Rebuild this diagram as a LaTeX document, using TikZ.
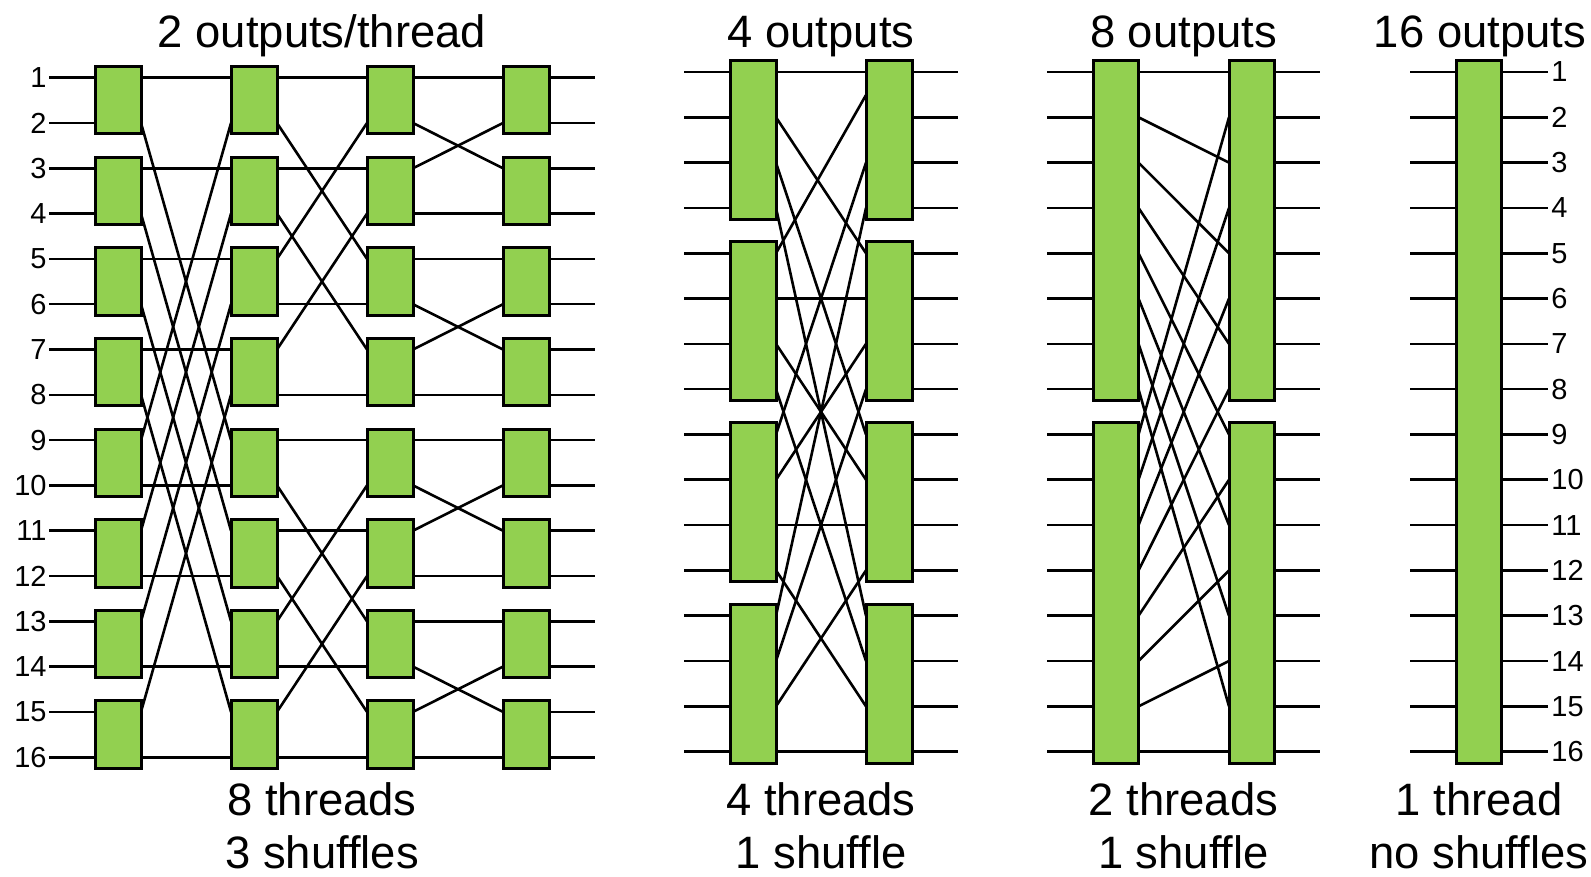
\documentclass[tikz,border=0pt]{standalone}
\usepackage{fontspec}
\setmainfont{Liberation Sans}
\usetikzlibrary{fit,calc}
\pgfdeclarelayer{bg}
\pgfsetlayers{bg,main}
\definecolor{blockgreen}{HTML}{92D050}
\begin{document}
\begin{tikzpicture}[x=0.5pt,y=-0.5pt,
  block/.style={draw=black, fill=blockgreen, line width=1.5pt, inner sep=0pt, outer sep=0pt},
  wire/.style={line width=1.3pt, black},
  num/.style={font=\fontsize{14.5}{16}\selectfont, inner sep=0pt},
  caption/.style={font=\fontsize{22.7}{26}\selectfont, inner sep=0pt, anchor=base}
]
\useasboundingbox (0,0) rectangle (1591,877);
% row coordinates
\foreach \k in {1,...,16} {
  \coordinate (A\k) at (0,{77.7+(\k-1)*45.3});
  \coordinate (B\k) at (0,{72+(\k-1)*45.31});
}
\coordinate (Bq) at (0,95);

% ---------- section 1: 2 outputs/thread ----------
\foreach \c/\xl in {1/95,2/231,3/367,4/503} {
  \foreach \j in {1,...,8} {
    \pgfmathsetmacro\yt{77.7+(2*\j-2)*45.3-11}
    \pgfmathsetmacro\yb{77.7+(2*\j-1)*45.3+11}
    \node[block, fit={(\xl,\yt)(\xl+46,\yb)}] (P\c-\j) {};
  }
}
\foreach \k in {1,...,16} {
  \node[num, anchor=east] (L\k) at (47,{77.7+(\k-1)*45.3}) {\k};
  \coordinate (AO\k) at (595,{77.7+(\k-1)*45.3});
}
\begin{pgfonlayer}{bg}
\foreach \k in {1,...,16} {
  \pgfmathtruncatemacro\j{(\k+1)/2}
  \draw[wire] ([xshift=1pt]L\k.east) -- (P1-\j.west |- A\k);
  \draw[wire] (P4-\j.east |- A\k) -- (AO\k);
}
\foreach \a/\b in {1/1,3/3,5/5,7/7,10/10,12/12,14/14,16/16,2/9,4/11,6/13,8/15,9/2,11/4,13/6,15/8} {
  \pgfmathtruncatemacro\ja{(\a+1)/2}
  \pgfmathtruncatemacro\jb{(\b+1)/2}
  \draw[wire] (P1-\ja.east |- A\a) -- (P2-\jb.west |- A\b);
}
\foreach \a/\b in {1/1,3/3,6/6,8/8,2/5,4/7,5/2,7/4,9/9,11/11,14/14,16/16,10/13,12/15,13/10,15/12} {
  \pgfmathtruncatemacro\ja{(\a+1)/2}
  \pgfmathtruncatemacro\jb{(\b+1)/2}
  \draw[wire] (P2-\ja.east |- A\a) -- (P3-\jb.west |- A\b);
}
\foreach \a/\b in {1/1,4/4,5/5,8/8,2/3,3/2,6/7,7/6,9/9,12/12,13/13,16/16,10/11,11/10,14/15,15/14} {
  \pgfmathtruncatemacro\ja{(\a+1)/2}
  \pgfmathtruncatemacro\jb{(\b+1)/2}
  \draw[wire] (P3-\ja.east |- A\a) -- (P4-\jb.west |- A\b);
}
\end{pgfonlayer}

% ---------- section 2: 4 outputs ----------
\foreach \c/\xl in {1/730,2/866} {
  \foreach \j in {1,...,4} {
    \pgfmathsetmacro\yt{72+(4*\j-4)*45.31-11.5}
    \pgfmathsetmacro\yb{72+(4*\j-1)*45.31+11.5}
    \node[block, fit={(\xl,\yt)(\xl+46,\yb)}] (Q\c-\j) {};
  }
}
\foreach \k in {1,...,16} {
  \coordinate (QI\k) at (684,{72+(\k-1)*45.31});
  \coordinate (QO\k) at (958,{72+(\k-1)*45.31});
}
\begin{pgfonlayer}{bg}
\foreach \k in {1,...,16} {
  \pgfmathtruncatemacro\j{(\k+3)/4}
  \draw[wire] (QI\k) -- (Q1-\j.west |- B\k);
  \draw[wire] (Q2-\j.east |- B\k) -- (QO\k);
}
\foreach \a/\b in {1/1,2/5,3/9,4/13,6/6,7/10,8/14,9/3,10/7,11/11,12/15,13/4,14/8,15/12,16/16} {
  \pgfmathtruncatemacro\ja{(\a+3)/4}
  \pgfmathtruncatemacro\jb{(\b+3)/4}
  \draw[wire] (Q1-\ja.east |- B\a) -- (Q2-\jb.west |- B\b);
}
\draw[wire] (Q1-2.east |- B5) -- (Q2-1.west |- Bq);
\end{pgfonlayer}

% ---------- section 3: 8 outputs ----------
\foreach \c/\xl in {1/1093,2/1229} {
  \foreach \j in {1,2} {
    \pgfmathsetmacro\yt{72+(8*\j-8)*45.31-11.5}
    \pgfmathsetmacro\yb{72+(8*\j-1)*45.31+11.5}
    \node[block, fit={(\xl,\yt)(\xl+45.5,\yb)}] (R\c-\j) {};
  }
}
\foreach \k in {1,...,16} {
  \coordinate (RI\k) at (1047,{72+(\k-1)*45.31});
  \coordinate (RO\k) at (1320,{72+(\k-1)*45.31});
}
\begin{pgfonlayer}{bg}
\foreach \k in {1,...,16} {
  \pgfmathtruncatemacro\j{(\k+7)/8}
  \draw[wire] (RI\k) -- (R1-\j.west |- B\k);
  \draw[wire] (R2-\j.east |- B\k) -- (RO\k);
}
\foreach \a/\b in {1/1,2/3,3/5,4/7,5/9,6/11,7/13,8/15,9/2,10/4,11/6,12/8,13/10,14/12,15/14,16/16} {
  \pgfmathtruncatemacro\ja{(\a+7)/8}
  \pgfmathtruncatemacro\jb{(\b+7)/8}
  \draw[wire] (R1-\ja.east |- B\a) -- (R2-\jb.west |- B\b);
}
\end{pgfonlayer}

% ---------- section 4: 16 outputs ----------
\node[block, fit={(1456,{72-11.5})(1501.5,{72+15*45.31+11.5})}] (S) {};
\foreach \k in {1,...,16} {
  \coordinate (SI\k) at (1410,{72+(\k-1)*45.31});
  \node[num, anchor=west] (SL\k) at (1551,{72+(\k-1)*45.31}) {\k};
}
\begin{pgfonlayer}{bg}
\foreach \k in {1,...,16} {
  \draw[wire] (SI\k) -- (S.west |- B\k);
  \draw[wire] (S.east |- B\k) -- ([xshift=-1.5pt]SL\k.west);
}
\end{pgfonlayer}

% ---------- captions ----------
\node[caption] (t1) at (322,47.5) {2 outputs/thread};
\node[caption] (t2) at (821,47.5) {4 outputs};
\node[caption] (t3) at (1183.5,47.5) {8 outputs};
\node[caption] (t4) at (1480,47.5) {16 outputs};
\node[caption] (b1) at (322,815) {8 threads};
\node[caption] (c1) at (322,868) {3 shuffles};
\node[caption] (b2) at (821,815) {4 threads};
\node[caption] (c2) at (821,868) {1 shuffle};
\node[caption] (b3) at (1183.5,815) {2 threads};
\node[caption] (c3) at (1183.5,868) {1 shuffle};
\node[caption] (b4) at (1479,815) {1 thread};
\node[caption] (c4) at (1479,868) {no shuffles};
\end{tikzpicture}
\end{document}
